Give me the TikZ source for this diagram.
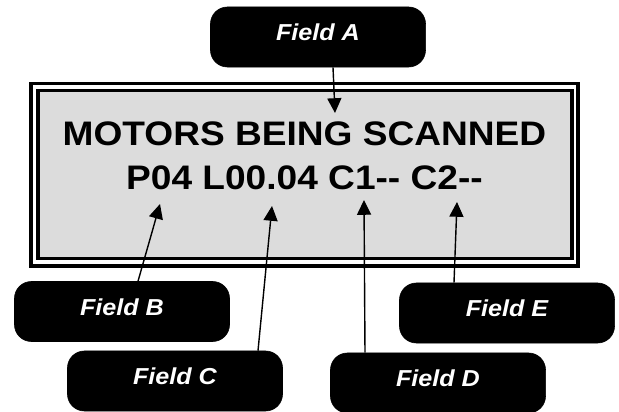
\documentclass[tikz,border=0pt]{standalone}
\usepackage{fontspec}
\usepackage{tikz}
\usetikzlibrary{arrows.meta,calc}

\newfontfamily\lcdfont[FakeStretch=1.09]{Liberation Sans}
\definecolor{lcdgray}{RGB}{220,220,220}

\tikzset{
	fieldbox/.style={shape=rectangle, rounded corners=12pt, fill=black, draw=black,
		text=white, minimum width=5.375cm, minimum height=1.5cm, inner sep=0pt,
		text height=12pt, text depth=7pt, font=\lcdfont\bfseries\itshape\fontsize{16.4}{18}\selectfont},
	lcdline/.style={anchor=base, inner sep=0pt, font=\lcdfont\bfseries\fontsize{24.2}{28}\selectfont},
	pointer/.style={line width=1pt, -{Triangle[length=10.5pt,width=10pt]}}
}

\begin{document}
\begin{tikzpicture}[x=0.025cm, y=-0.025cm]
			\useasboundingbox (0,0) rectangle (619,412);
			
			% display
			\draw[line width=3.5*0.7113pt] (31,83.5) rectangle (578,266);
			\draw[line width=3.5*0.7113pt, fill=lcdgray] (38,90.5) rectangle (572,258.5);
			\node[lcdline] (top) at (304.5,146) {MOTORS BEING SCANNED};
			\node[lcdline] (bottom) at (304.5,190) {P04 L00.04 C1-- C2--};
			
			% fields
			\node[fieldbox] (fa) at (318,37) {Field A};
			\node[fieldbox] (fb) at (122,311.5) {Field B};
			\node[fieldbox] (fc) at (175,381) {Field C};
			\node[fieldbox] (fd) at (438,383) {Field D};
			\node[fieldbox] (fe) at (507,313) {Field E};
			
			\coordinate (pA) at (335,113);
			\coordinate (pB) at (160,204);
			\coordinate (pC) at (272,206);
			\coordinate (pD) at (364,200);
			\coordinate (pE) at (457,202);
			
			\draw[pointer] ($(fa.south)+(15,0)$) -- (pA);
			\draw[pointer] ($(fb.north)+(16,0)$) -- (pB);
			\draw[pointer] ($(fc.north)+(83,0)$) -- (pC);
			\draw[pointer] ($(fd.north)+(-73,0)$) -- (pD);
			\draw[pointer] ($(fe.north)+(-53,0)$) -- (pE);
		\end{tikzpicture}
\end{document}
